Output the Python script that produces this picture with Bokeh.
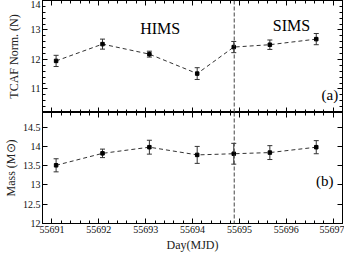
from bokeh.plotting import figure
from bokeh.layouts import column
from bokeh.models import (Range1d, LinearAxis, FixedTicker, Whisker, TeeHead,
                          ColumnDataSource, Span, Label)
from bokeh.embed import file_html
from bokeh.resources import INLINE

# ---- data ----
days = [55691.09, 55692.08, 55693.08, 55694.10, 55694.88, 55695.65, 55696.64]
tcaf_norm = [11.95, 12.52, 12.18, 11.52, 12.42, 12.50, 12.69]
tcaf_err = [0.19, 0.17, 0.10, 0.20, 0.19, 0.16, 0.19]
mass = [13.51, 13.82, 13.98, 13.78, 13.81, 13.84, 13.98]
mass_err = [0.17, 0.11, 0.18, 0.22, 0.27, 0.18, 0.17]
transition_day = 55694.89
x_ticks = [55691, 55692, 55693, 55694, 55695, 55696, 55697]
top_ticks = [11, 12, 13, 14]
bottom_ticks = [12, 12.5, 13, 13.5, 14, 14.5]

FONT = "Liberation Serif"
x_range = Range1d(55690.8, 55697.2)
x_minor = [55690.8 + 0.2 * i for i in range(33)]


def style_axis(ax, major, minor=None, label_standoff=2):
    ax.ticker = FixedTicker(ticks=major, minor_ticks=minor or [])
    ax.major_tick_in = 5
    ax.major_tick_out = 0
    ax.minor_tick_in = 3
    ax.minor_tick_out = 0
    ax.axis_line_color = "black"
    ax.major_tick_line_color = "black"
    ax.minor_tick_line_color = "black"
    ax.major_label_text_font = FONT
    ax.major_label_text_color = "#111111"
    ax.major_label_text_font_size = "10px"
    ax.major_label_standoff = 2
    ax.axis_label_standoff = label_standoff
    ax.axis_label_text_font = FONT
    ax.axis_label_text_font_style = "normal"
    ax.axis_label_text_font_size = "12px"
    ax.axis_label_text_color = "#222222"


def tick_only_axes(p, side, major, minor):
    # unlabeled edge ticks: drawn as label-free minor ticks of two lengths
    for ticks, length in ((major, 5), (minor, 3)):
        ax = LinearAxis(ticker=FixedTicker(ticks=[], minor_ticks=ticks))
        ax.minor_tick_in = length
        ax.minor_tick_out = 0
        ax.major_tick_in = 0
        ax.major_tick_out = 0
        ax.minor_tick_line_color = "black"
        ax.axis_line_color = "black"
        p.add_layout(ax, side)


def make_panel(y, yerr, yr, yticks, yminor, ylabel, height, bottom_labels,
               ylabel_standoff):
    p = figure(width=344, height=height, x_range=x_range, y_range=yr,
               output_backend="svg", toolbar_location=None,
               x_axis_location=None, y_axis_location=None,
               min_border_left=34, min_border_right=2,
               min_border_top=0, min_border_bottom=30 if bottom_labels else 0)
    p.grid.visible = False
    p.outline_line_color = "black"
    p.background_fill_color = "white"
    p.border_fill_color = "white"

    left = LinearAxis(axis_label=ylabel)
    style_axis(left, yticks, yminor, ylabel_standoff)
    p.add_layout(left, "left")
    tick_only_axes(p, "right", yticks, yminor)
    tick_only_axes(p, "above", x_ticks, x_minor)
    if bottom_labels:
        bot = LinearAxis(axis_label="Day(MJD)")
        style_axis(bot, x_ticks, x_minor, 2)
        p.add_layout(bot, "below")
    else:
        tick_only_axes(p, "below", x_ticks, x_minor)

    lower = [v - e for v, e in zip(y, yerr)]
    upper = [v + e for v, e in zip(y, yerr)]
    src = ColumnDataSource(dict(x=days, y=y, lower=lower, upper=upper))
    p.line("x", "y", source=src, line_color="#333333", line_dash="4 3",
           line_width=1)
    p.add_layout(Whisker(base="x", lower="lower", upper="upper", source=src,
                         line_color="#333333", line_width=1,
                         upper_head=TeeHead(size=5, line_color="#333333"),
                         lower_head=TeeHead(size=5, line_color="#333333")))
    p.scatter("x", "y", source=src, marker="square", size=3.5,
              fill_color="black", line_color="black")
    p.add_layout(Span(location=transition_day, dimension="height",
                      line_color="#444444", line_dash="4 2", line_width=1))
    return p


top_p = make_panel(tcaf_norm, tcaf_err, Range1d(10.2, 14), top_ticks,
                   [10.4 + 0.2 * i for i in range(18)], "TCAF Norm. (N)",
                   112, False, 7)
bot_p = make_panel(mass, mass_err, Range1d(12, 14.88), bottom_ticks, [],
                   "Mass (M\u2299)", 142, True, 2)

for txt, xx, yy in [("HIMS", 55693.31, 13.06), ("SIMS", 55696.11, 13.15),
                    ("(a)", 55696.93, 10.78)]:
    top_p.add_layout(Label(x=xx, y=yy, text=txt, text_font=FONT,
                           text_font_size="16px" if txt != "(a)" else "15px",
                           text_align="center", text_baseline="middle",
                           text_color="black"))
bot_p.add_layout(Label(x=55696.82, y=13.1, text="(b)", text_font=FONT,
                       text_font_size="15px", text_align="center",
                       text_baseline="middle", text_color="black"))

layout = column(top_p, bot_p, spacing=0)
open("out.html", "w").write(file_html(layout, INLINE))
